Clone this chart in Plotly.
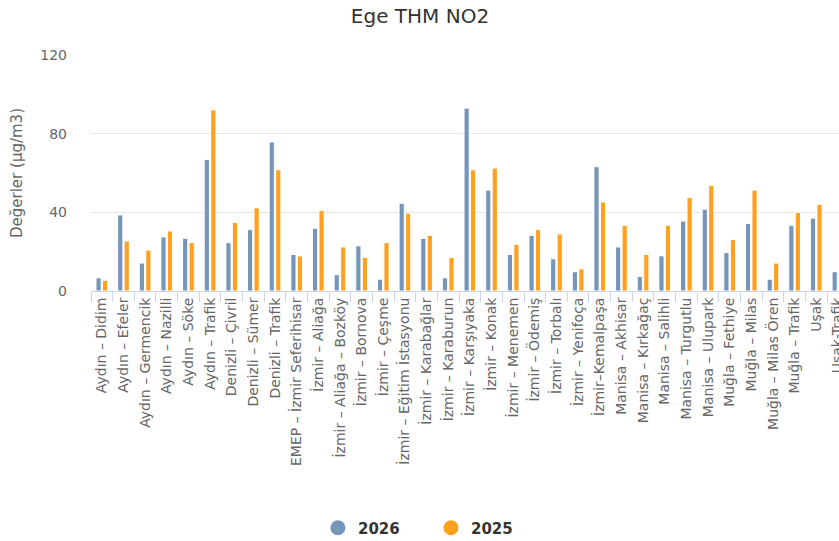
import plotly.graph_objects as go

categories = [
    "Aydın – Didim", "Aydın – Efeler", "Aydın – Germencik", "Aydın – Nazilli",
    "Aydın – Söke", "Aydın – Trafik", "Denizli – Çivril", "Denizli – Sümer",
    "Denizli – Trafik", "EMEP – İzmir Seferihisar", "İzmir – Aliağa",
    "İzmir – Aliağa – Bozköy", "İzmir – Bornova", "İzmir – Çeşme",
    "İzmir – Eğitim İstasyonu", "İzmir – Karabağlar", "İzmir – Karaburun",
    "İzmir – Karşıyaka", "İzmir – Konak", "İzmir – Menemen", "İzmir – Ödemiş",
    "İzmir – Torbalı", "İzmir – Yenifoça", "İzmir–Kemalpaşa", "Manisa – Akhisar",
    "Manisa – Kırkağaç", "Manisa – Salihli", "Manisa – Turgutlu",
    "Manisa – Ulupark", "Muğla – Fethiye", "Muğla – Milas", "Muğla – Milas Ören",
    "Muğla – Trafik", "Uşak", "Uşak-Trafik",
]

values_2026 = [
    6.7, 38.7, 14.2, 27.5, 26.8, 66.9, 24.6, 31.2, 75.8, 18.6, 31.9, 8.3,
    23.0, 6.0, 44.6, 26.8, 6.7, 93.0, 51.3, 18.6, 28.3, 16.4, 9.8, 63.2,
    22.4, 7.4, 17.9, 35.6, 41.6, 19.5, 34.3, 6.0, 33.4, 37.1, 9.8,
]

values_2025 = [
    5.4, 25.4, 20.8, 30.5, 24.6, 92.1, 34.9, 42.3, 61.6, 17.8, 40.9, 22.4,
    17.1, 24.6, 39.5, 28.3, 17.1, 61.6, 62.5, 23.7, 31.2, 29.0, 11.3, 45.3,
    33.4, 18.6, 33.4, 47.5, 53.7, 26.1, 51.3, 14.2, 40.0, 44.0, 40.0,
]

series_names = ["2026", "2025"]
colors = ["#7596B8", "#FFA11F"]
legend_ids = ["legend", "legend2"]

FONT = "DejaVu Sans"

fig = go.Figure()
for name, vals, col, lg in zip(series_names, [values_2026, values_2025], colors, legend_ids):
    fig.add_trace(go.Bar(
        x=categories, y=vals, name=name, legendgroup=name, showlegend=False,
        marker=dict(color=col, line=dict(color="#ffffff", width=1)),
    ))
    fig.add_trace(go.Scatter(
        x=[None], y=[None], mode="markers", name=name, legendgroup=name,
        legend=lg, marker=dict(color=col, size=15, symbol="circle"),
    ))

legend_font = dict(family=FONT, size=15, color="#333333", weight="bold")
legend_y = -1.0 - 1 / 236.0

fig.update_layout(
    width=839, height=541,
    margin=dict(l=91, r=0, t=55, b=250, autoexpand=False),
    paper_bgcolor="#ffffff", plot_bgcolor="#ffffff",
    barmode="group", bargap=0.4, bargroupgap=0.2,
    font=dict(family=FONT, color="#666666", size=13),
    title=dict(
        text="Ege THM NO2", x=420 / 839, xref="container", xanchor="center",
        y=1 - 16 / 541, yref="container", yanchor="middle",
        font=dict(family=FONT, size=20, color="#333333"),
    ),
    legend=dict(
        orientation="h", x=0.3034, xanchor="left", y=legend_y, yanchor="middle",
        font=legend_font, itemwidth=30, bgcolor="rgba(0,0,0,0)",
    ),
    legend2=dict(
        orientation="h", x=0.4545, xanchor="left", y=legend_y, yanchor="middle",
        font=legend_font, itemwidth=30, bgcolor="rgba(0,0,0,0)",
    ),
    xaxis=dict(
        type="category", range=[-0.5, 34.05], tickangle=-90,
        tickson="boundaries", ticks="outside", ticklen=10, tickcolor="#ccd6eb",
        showline=True, linecolor="#ccd6eb", linewidth=1, showgrid=False,
        tickfont=dict(family=FONT, size=14, color="#666666"),
        fixedrange=True, automargin=False,
    ),
    yaxis=dict(
        range=[0, 120], dtick=40, tick0=0, showgrid=True, gridcolor="#e6e6e6",
        gridwidth=1, zeroline=False, showline=False, ticks="",
        ticklabelstandoff=23,
        tickfont=dict(family=FONT, size=14, color="#666666"),
        title=dict(text="Değerler (µg/m3)", standoff=14,
                   font=dict(family=FONT, size=15, color="#666666")),
        fixedrange=True, automargin=False,
    ),
)

fig.write_html(
    "out.html",
    config={"displayModeBar": False},
    post_script="document.body.style.margin='0px';",
)
